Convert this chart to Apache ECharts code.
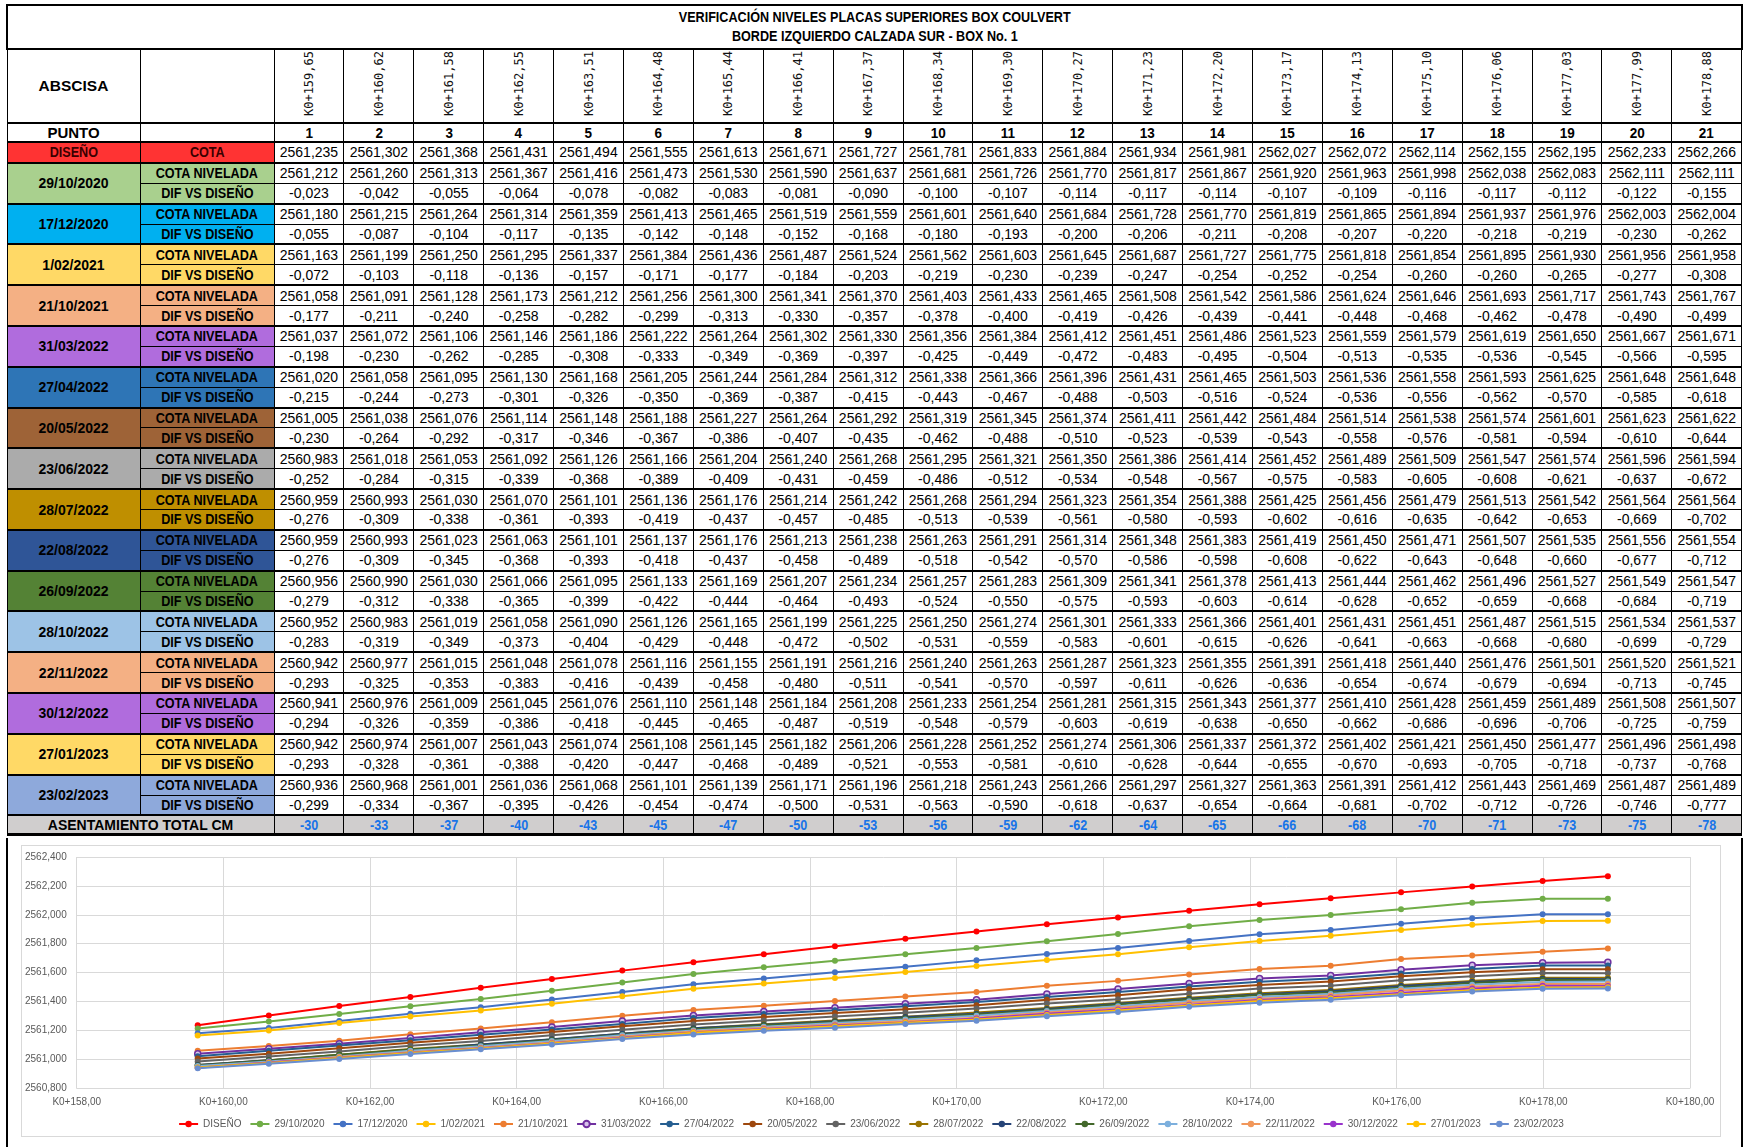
<!DOCTYPE html>
<html>
<head>
<meta charset="utf-8">
<script src="https://cdn.jsdelivr.net/npm/echarts@6/dist/echarts.min.js"></script>
<style>
  html, body { margin: 0; padding: 0; background: #fff; }
  body { width: 1745px; height: 1147px; overflow: hidden; position: relative; }
  #tabla {
    position: absolute; left: 6px; top: 4px; width: 1735px;
    border-collapse: collapse; table-layout: fixed;
    font-family: 'Liberation Sans', Arial, sans-serif;
    color: #000;
  }
  #tabla td { border: 1px solid #000; padding: 0; text-align: center; white-space: nowrap; overflow: hidden; }
  #tabla tr.title td { height: 42px; font-weight: bold; font-size: 14px; line-height: 19px; border-width: 2px; }
  #tabla tr.head td { height: 72px; border-bottom-width: 2px; }
  #tabla tr.punto td { height: 17px; font-weight: bold; font-size: 15px; }
  #tabla tr.fila td { height: 18.9px; font-size: 14px; }
  #tabla tr.g1 td { border-top-width: 2px; }
  #tabla tr.g2 td.num { border-top-color: #555; }
  #tabla td.lbl { font-weight: bold; font-size: 14px; }
  #tabla td.big { font-weight: bold; font-size: 15.5px; }
  #tabla td.fecha { font-weight: bold; font-size: 15px; }
  #tabla tr.asent td { height: 17px; background: #D0CECE; font-weight: bold; font-size: 14px; color: #1874E8; border-top-width: 2px; border-bottom-width: 3px; }
  #tabla tr.asent td.lbl { color: #000; }
  .sq { display: inline-block; transform: scaleX(0.9); }
  .rot { display: inline-block; writing-mode: vertical-rl; transform: rotate(180deg); font-family: 'DejaVu Sans Mono', monospace; font-size: 12px; color: #111; }
  #marco { position: absolute; left: 6px; top: 838px; width: 1733px; height: 320px; border-left: 2px solid #000; border-right: 2px solid #000; }
  #chart { position: absolute; left: 21px; top: 845px; width: 1698px; height: 290px; border: 1px solid #D9D9D9; }
</style>
</head>
<body>
<table id="tabla"></table>
<div id="marco"></div>
<div id="chart"></div>
<script>
// abscisas (K0+...)
const abscisa = [159.65, 160.62, 161.58, 162.55, 163.51, 164.48, 165.44, 166.41, 167.37, 168.34, 169.30,
  170.27, 171.23, 172.20, 173.17, 174.13, 175.10, 176.06, 177.03, 177.99, 178.88];

const cotaDiseno = [2561.235, 2561.302, 2561.368, 2561.431, 2561.494, 2561.555, 2561.613, 2561.671, 2561.727, 2561.781, 2561.833,
  2561.884, 2561.934, 2561.981, 2562.027, 2562.072, 2562.114, 2562.155, 2562.195, 2562.233, 2562.266];

const fechas = ['29/10/2020', '17/12/2020', '1/02/2021', '21/10/2021', '31/03/2022', '27/04/2022', '20/05/2022', '23/06/2022',
  '28/07/2022', '22/08/2022', '26/09/2022', '28/10/2022', '22/11/2022', '30/12/2022', '27/01/2023', '23/02/2023'];

const cota_29_10_2020 = [2561.212, 2561.260, 2561.313, 2561.367, 2561.416, 2561.473, 2561.530, 2561.590, 2561.637, 2561.681, 2561.726, 2561.770, 2561.817, 2561.867, 2561.920, 2561.963, 2561.998, 2562.038, 2562.083, 2562.111, 2562.111];
const dif_29_10_2020 = [-0.023, -0.042, -0.055, -0.064, -0.078, -0.082, -0.083, -0.081, -0.090, -0.100, -0.107, -0.114, -0.117, -0.114, -0.107, -0.109, -0.116, -0.117, -0.112, -0.122, -0.155];

const cota_17_12_2020 = [2561.180, 2561.215, 2561.264, 2561.314, 2561.359, 2561.413, 2561.465, 2561.519, 2561.559, 2561.601, 2561.640, 2561.684, 2561.728, 2561.770, 2561.819, 2561.865, 2561.894, 2561.937, 2561.976, 2562.003, 2562.004];
const dif_17_12_2020 = [-0.055, -0.087, -0.104, -0.117, -0.135, -0.142, -0.148, -0.152, -0.168, -0.180, -0.193, -0.200, -0.206, -0.211, -0.208, -0.207, -0.220, -0.218, -0.219, -0.230, -0.262];

const cota_01_02_2021 = [2561.163, 2561.199, 2561.250, 2561.295, 2561.337, 2561.384, 2561.436, 2561.487, 2561.524, 2561.562, 2561.603, 2561.645, 2561.687, 2561.727, 2561.775, 2561.818, 2561.854, 2561.895, 2561.930, 2561.956, 2561.958];
const dif_01_02_2021 = [-0.072, -0.103, -0.118, -0.136, -0.157, -0.171, -0.177, -0.184, -0.203, -0.219, -0.230, -0.239, -0.247, -0.254, -0.252, -0.254, -0.260, -0.260, -0.265, -0.277, -0.308];

const cota_21_10_2021 = [2561.058, 2561.091, 2561.128, 2561.173, 2561.212, 2561.256, 2561.300, 2561.341, 2561.370, 2561.403, 2561.433, 2561.465, 2561.508, 2561.542, 2561.586, 2561.624, 2561.646, 2561.693, 2561.717, 2561.743, 2561.767];
const dif_21_10_2021 = [-0.177, -0.211, -0.240, -0.258, -0.282, -0.299, -0.313, -0.330, -0.357, -0.378, -0.400, -0.419, -0.426, -0.439, -0.441, -0.448, -0.468, -0.462, -0.478, -0.490, -0.499];

const cota_31_03_2022 = [2561.037, 2561.072, 2561.106, 2561.146, 2561.186, 2561.222, 2561.264, 2561.302, 2561.330, 2561.356, 2561.384, 2561.412, 2561.451, 2561.486, 2561.523, 2561.559, 2561.579, 2561.619, 2561.650, 2561.667, 2561.671];
const dif_31_03_2022 = [-0.198, -0.230, -0.262, -0.285, -0.308, -0.333, -0.349, -0.369, -0.397, -0.425, -0.449, -0.472, -0.483, -0.495, -0.504, -0.513, -0.535, -0.536, -0.545, -0.566, -0.595];

const cota_27_04_2022 = [2561.020, 2561.058, 2561.095, 2561.130, 2561.168, 2561.205, 2561.244, 2561.284, 2561.312, 2561.338, 2561.366, 2561.396, 2561.431, 2561.465, 2561.503, 2561.536, 2561.558, 2561.593, 2561.625, 2561.648, 2561.648];
const dif_27_04_2022 = [-0.215, -0.244, -0.273, -0.301, -0.326, -0.350, -0.369, -0.387, -0.415, -0.443, -0.467, -0.488, -0.503, -0.516, -0.524, -0.536, -0.556, -0.562, -0.570, -0.585, -0.618];

const cota_20_05_2022 = [2561.005, 2561.038, 2561.076, 2561.114, 2561.148, 2561.188, 2561.227, 2561.264, 2561.292, 2561.319, 2561.345, 2561.374, 2561.411, 2561.442, 2561.484, 2561.514, 2561.538, 2561.574, 2561.601, 2561.623, 2561.622];
const dif_20_05_2022 = [-0.230, -0.264, -0.292, -0.317, -0.346, -0.367, -0.386, -0.407, -0.435, -0.462, -0.488, -0.510, -0.523, -0.539, -0.543, -0.558, -0.576, -0.581, -0.594, -0.610, -0.644];

const cota_23_06_2022 = [2560.983, 2561.018, 2561.053, 2561.092, 2561.126, 2561.166, 2561.204, 2561.240, 2561.268, 2561.295, 2561.321, 2561.350, 2561.386, 2561.414, 2561.452, 2561.489, 2561.509, 2561.547, 2561.574, 2561.596, 2561.594];
const dif_23_06_2022 = [-0.252, -0.284, -0.315, -0.339, -0.368, -0.389, -0.409, -0.431, -0.459, -0.486, -0.512, -0.534, -0.548, -0.567, -0.575, -0.583, -0.605, -0.608, -0.621, -0.637, -0.672];

const cota_28_07_2022 = [2560.959, 2560.993, 2561.030, 2561.070, 2561.101, 2561.136, 2561.176, 2561.214, 2561.242, 2561.268, 2561.294, 2561.323, 2561.354, 2561.388, 2561.425, 2561.456, 2561.479, 2561.513, 2561.542, 2561.564, 2561.564];
const dif_28_07_2022 = [-0.276, -0.309, -0.338, -0.361, -0.393, -0.419, -0.437, -0.457, -0.485, -0.513, -0.539, -0.561, -0.580, -0.593, -0.602, -0.616, -0.635, -0.642, -0.653, -0.669, -0.702];

const cota_22_08_2022 = [2560.959, 2560.993, 2561.023, 2561.063, 2561.101, 2561.137, 2561.176, 2561.213, 2561.238, 2561.263, 2561.291, 2561.314, 2561.348, 2561.383, 2561.419, 2561.450, 2561.471, 2561.507, 2561.535, 2561.556, 2561.554];
const dif_22_08_2022 = [-0.276, -0.309, -0.345, -0.368, -0.393, -0.418, -0.437, -0.458, -0.489, -0.518, -0.542, -0.570, -0.586, -0.598, -0.608, -0.622, -0.643, -0.648, -0.660, -0.677, -0.712];

const cota_26_09_2022 = [2560.956, 2560.990, 2561.030, 2561.066, 2561.095, 2561.133, 2561.169, 2561.207, 2561.234, 2561.257, 2561.283, 2561.309, 2561.341, 2561.378, 2561.413, 2561.444, 2561.462, 2561.496, 2561.527, 2561.549, 2561.547];
const dif_26_09_2022 = [-0.279, -0.312, -0.338, -0.365, -0.399, -0.422, -0.444, -0.464, -0.493, -0.524, -0.550, -0.575, -0.593, -0.603, -0.614, -0.628, -0.652, -0.659, -0.668, -0.684, -0.719];

const cota_28_10_2022 = [2560.952, 2560.983, 2561.019, 2561.058, 2561.090, 2561.126, 2561.165, 2561.199, 2561.225, 2561.250, 2561.274, 2561.301, 2561.333, 2561.366, 2561.401, 2561.431, 2561.451, 2561.487, 2561.515, 2561.534, 2561.537];
const dif_28_10_2022 = [-0.283, -0.319, -0.349, -0.373, -0.404, -0.429, -0.448, -0.472, -0.502, -0.531, -0.559, -0.583, -0.601, -0.615, -0.626, -0.641, -0.663, -0.668, -0.680, -0.699, -0.729];

const cota_22_11_2022 = [2560.942, 2560.977, 2561.015, 2561.048, 2561.078, 2561.116, 2561.155, 2561.191, 2561.216, 2561.240, 2561.263, 2561.287, 2561.323, 2561.355, 2561.391, 2561.418, 2561.440, 2561.476, 2561.501, 2561.520, 2561.521];
const dif_22_11_2022 = [-0.293, -0.325, -0.353, -0.383, -0.416, -0.439, -0.458, -0.480, -0.511, -0.541, -0.570, -0.597, -0.611, -0.626, -0.636, -0.654, -0.674, -0.679, -0.694, -0.713, -0.745];

const cota_30_12_2022 = [2560.941, 2560.976, 2561.009, 2561.045, 2561.076, 2561.110, 2561.148, 2561.184, 2561.208, 2561.233, 2561.254, 2561.281, 2561.315, 2561.343, 2561.377, 2561.410, 2561.428, 2561.459, 2561.489, 2561.508, 2561.507];
const dif_30_12_2022 = [-0.294, -0.326, -0.359, -0.386, -0.418, -0.445, -0.465, -0.487, -0.519, -0.548, -0.579, -0.603, -0.619, -0.638, -0.650, -0.662, -0.686, -0.696, -0.706, -0.725, -0.759];

const cota_27_01_2023 = [2560.942, 2560.974, 2561.007, 2561.043, 2561.074, 2561.108, 2561.145, 2561.182, 2561.206, 2561.228, 2561.252, 2561.274, 2561.306, 2561.337, 2561.372, 2561.402, 2561.421, 2561.450, 2561.477, 2561.496, 2561.498];
const dif_27_01_2023 = [-0.293, -0.328, -0.361, -0.388, -0.420, -0.447, -0.468, -0.489, -0.521, -0.553, -0.581, -0.610, -0.628, -0.644, -0.655, -0.670, -0.693, -0.705, -0.718, -0.737, -0.768];

const cota_23_02_2023 = [2560.936, 2560.968, 2561.001, 2561.036, 2561.068, 2561.101, 2561.139, 2561.171, 2561.196, 2561.218, 2561.243, 2561.266, 2561.297, 2561.327, 2561.363, 2561.391, 2561.412, 2561.443, 2561.469, 2561.487, 2561.489];
const dif_23_02_2023 = [-0.299, -0.334, -0.367, -0.395, -0.426, -0.454, -0.474, -0.500, -0.531, -0.563, -0.590, -0.618, -0.637, -0.654, -0.664, -0.681, -0.702, -0.712, -0.726, -0.746, -0.777];

const asentamientoCm = [-30, -33, -37, -40, -43, -45, -47, -50, -53, -56, -59, -62, -64, -65, -66, -68, -70, -71, -73, -75, -78];

const cotas = [cota_29_10_2020, cota_17_12_2020, cota_01_02_2021, cota_21_10_2021, cota_31_03_2022, cota_27_04_2022,
  cota_20_05_2022, cota_23_06_2022, cota_28_07_2022, cota_22_08_2022, cota_26_09_2022, cota_28_10_2022,
  cota_22_11_2022, cota_30_12_2022, cota_27_01_2023, cota_23_02_2023];
const difs = [dif_29_10_2020, dif_17_12_2020, dif_01_02_2021, dif_21_10_2021, dif_31_03_2022, dif_27_04_2022,
  dif_20_05_2022, dif_23_06_2022, dif_28_07_2022, dif_22_08_2022, dif_26_09_2022, dif_28_10_2022,
  dif_22_11_2022, dif_30_12_2022, dif_27_01_2023, dif_23_02_2023];

// colores de la tabla y de las lineas
const fondoFecha = ['#A9D08E', '#00B0F0', '#FFD966', '#F4B084', '#B06CDD', '#2E75B6', '#9E6337', '#ABABAB',
  '#BF8F00', '#2F5597', '#548235', '#9DC3E6', '#F4B084', '#B06CDD', '#FFD966', '#8EA9DB'];
const colorLinea = ['#70AD47', '#4472C4', '#FFC000', '#ED7D31', '#7030A0', '#255E91', '#9E480E', '#636363',
  '#997300', '#264478', '#43682B', '#7CAFDD', '#F1975A', '#9933CC', '#FFC000', '#698ED0'];

const f3 = v => v.toFixed(3).replace('.', ',');
const f2 = v => v.toFixed(2).replace('.', ',');
const sq = t => '<span class="sq">' + t + '</span>';

// ---- tabla ----
let html = '<colgroup><col style="width:133px"><col style="width:134px">' +
  abscisa.map(() => '<col style="width:69.905px">').join('') + '</colgroup>';
html += '<tr class="title"><td colspan="23"><div>' + sq('VERIFICACIÓN NIVELES PLACAS SUPERIORES BOX COULVERT') + '</div>' +
  '<div>' + sq('BORDE IZQUIERDO CALZADA SUR - BOX No. 1') + '</div></td></tr>';
html += '<tr class="head"><td class="big">ABSCISA</td><td></td>' +
  abscisa.map(a => '<td><span class="rot">K0+' + f2(a) + '</span></td>').join('') + '</tr>';
html += '<tr class="punto"><td class="big">PUNTO</td><td></td>' +
  abscisa.map((a, i) => '<td>' + sq(i + 1) + '</td>').join('') + '</tr>';
html += '<tr class="fila g1"><td class="lbl" style="background:#FF3333;color:#3a0000">' + sq('DISEÑO') + '</td>' +
  '<td class="lbl" style="background:#FF3333;color:#3a0000">' + sq('COTA') + '</td>' +
  cotaDiseno.map(v => '<td class="num">' + f3(v) + '</td>').join('') + '</tr>';
fechas.forEach((fecha, k) => {
  const bg = fondoFecha[k];
  html += '<tr class="fila g1"><td class="fecha" rowspan="2" style="background:' + bg + '">' + fecha + '</td>' +
    '<td class="lbl" style="background:' + bg + '">' + sq('COTA NIVELADA') + '</td>' +
    cotas[k].map(v => '<td class="num">' + f3(v) + '</td>').join('') + '</tr>';
  html += '<tr class="fila g2"><td class="lbl" style="background:' + bg + '">' + sq('DIF VS DISEÑO') + '</td>' +
    difs[k].map(v => '<td class="num">' + f3(v) + '</td>').join('') + '</tr>';
});
html += '<tr class="asent"><td class="lbl" colspan="2">ASENTAMIENTO TOTAL CM</td>' +
  asentamientoCm.map(v => '<td>' + sq(v) + '</td>').join('') + '</tr>';
document.getElementById('tabla').innerHTML = html;

// ---- grafica ----
const chart = echarts.init(document.getElementById('chart'));
const serie = (name, valores, color, extra) => Object.assign({
  name: name,
  type: 'line',
  data: abscisa.map((x, i) => [x, valores[i]]),
  symbol: 'circle',
  symbolSize: 6,
  lineStyle: { width: 2, color: color },
  itemStyle: { color: color },
  emphasis: { disabled: true }
}, extra || {});

const series = [serie('DISEÑO', cotaDiseno, '#FF0000')].concat(fechas.map((f, k) => {
  const extra = k === 4 ? { itemStyle: { color: '#D7C3EA', borderColor: colorLinea[k], borderWidth: 1.5 } } : null;
  return serie(f, cotas[k], colorLinea[k], extra);
}));

const fuente = "'Liberation Sans', Arial, sans-serif";
chart.setOption({
  animation: false,
  textStyle: { fontFamily: fuente },
  grid: { left: 50, right: 30, top: 11, bottom: 48 },
  legend: {
    bottom: 2,
    left: 'center',
    itemWidth: 19,
    itemHeight: 8,
    itemGap: 8,
    textStyle: { fontSize: 10, color: '#595959', fontFamily: fuente },
    data: series.map(s => s.name)
  },
  xAxis: {
    type: 'value',
    min: 158,
    max: 180,
    interval: 2,
    axisLine: { lineStyle: { color: '#D9D9D9' } },
    axisTick: { show: false },
    axisLabel: { color: '#595959', fontSize: 10, margin: 9, formatter: v => 'K0+' + f2(v) },
    splitLine: { show: true, lineStyle: { color: '#D9D9D9' } }
  },
  yAxis: {
    type: 'value',
    min: 2560.8,
    max: 2562.4,
    interval: 0.2,
    axisLine: { show: false },
    axisTick: { show: false },
    axisLabel: { color: '#595959', fontSize: 10, margin: 10, formatter: v => f3(v) },
    splitLine: { lineStyle: { color: '#D9D9D9' } }
  },
  series: series
});
</script>
</body>
</html>
